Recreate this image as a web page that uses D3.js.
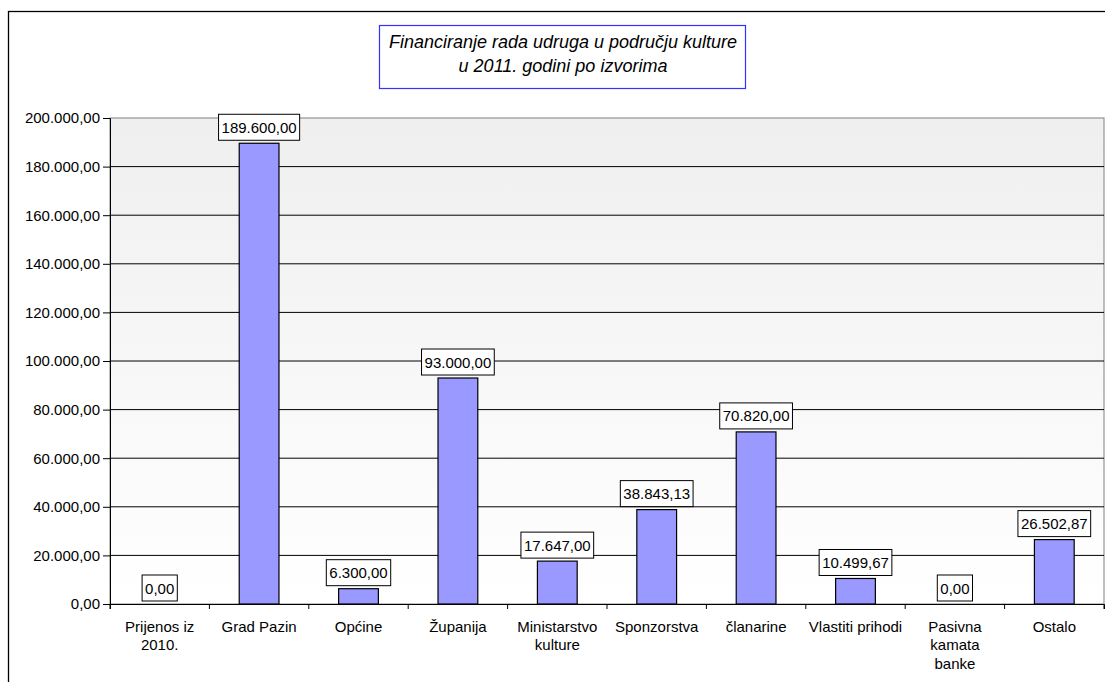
<!DOCTYPE html>
<html>
<head>
<meta charset="utf-8">
<script src="https://cdn.jsdelivr.net/npm/d3@7"></script>
<style>
  html, body { margin: 0; padding: 0; background: #fff; overflow: hidden; }
  text { font-family: "Liberation Sans", Arial, sans-serif; }
</style>
</head>
<body>
<svg id="chart" width="1105" height="682"></svg>
<script>
// ---- data ----
const categories = ["Prijenos iz\n2010.", "Grad Pazin", "Općine", "Županija", "Ministarstvo\nkulture",
  "Sponzorstva", "članarine", "Vlastiti prihodi", "Pasivna\nkamata\nbanke", "Ostalo"];
const values = [0, 189600, 6300, 93000, 17647, 38843.13, 70820, 10499.67, 0, 26502.87];
const yTicks = [0, 20000, 40000, 60000, 80000, 100000, 120000, 140000, 160000, 180000, 200000];
const titleLines = ["Financiranje rada udruga u području kulture", "u 2011. godini po izvorima"];

// ---- layout ----
const svg = d3.select("#chart");
const W = 1105, H = 682;
const plot = { left: 110, top: 118, right: 1104, bottom: 604 };

const hr = d3.formatLocale({ decimal: ",", thousands: ".", grouping: [3], currency: ["", ""] });
const fmt = hr.format(",.2f");

const x = d3.scaleBand().domain(categories).range([plot.left, plot.right]).paddingInner(0.6).paddingOuter(0.3);
const xb = d3.scaleBand().domain(categories).range([plot.left, plot.right]);
const y = d3.scaleLinear().domain([0, 200000]).range([plot.bottom, plot.top]);

// outer frame
svg.append("rect").attr("x", 8.5).attr("y", 11.5).attr("width", W + 20).attr("height", H + 20)
  .attr("fill", "#fff").attr("stroke", "#000").attr("stroke-width", 1.3);

// gradient background
const defs = svg.append("defs");
const grad = defs.append("linearGradient").attr("id", "bg").attr("x1", 0).attr("y1", 0).attr("x2", 0).attr("y2", 1);
grad.append("stop").attr("offset", "0%").attr("stop-color", "#efefef");
grad.append("stop").attr("offset", "100%").attr("stop-color", "#ffffff");

svg.append("rect").attr("x", plot.left).attr("y", plot.top)
  .attr("width", plot.right - plot.left).attr("height", plot.bottom - plot.top)
  .attr("fill", "url(#bg)").attr("stroke", "#808080").attr("stroke-width", 1);

// gridlines
svg.append("g").selectAll("line").data(yTicks.filter(d => d > 0 && d < 200000)).join("line")
  .attr("x1", plot.left).attr("x2", plot.right)
  .attr("y1", d => y(d)).attr("y2", d => y(d))
  .attr("stroke", "#000").attr("stroke-width", 1);

// bars
svg.append("g").selectAll("rect").data(values).join("rect")
  .attr("x", (d, i) => x(categories[i]))
  .attr("width", x.bandwidth())
  .attr("y", d => y(d))
  .attr("height", d => y(0) - y(d))
  .attr("fill", "#9999ff").attr("stroke", "#000").attr("stroke-width", 1.2)
  .attr("display", d => d > 0 ? null : "none");

// y axis
const yAxis = d3.axisLeft(y).tickValues(yTicks).tickFormat(fmt).tickSize(7).tickPadding(3);
const gy = svg.append("g").attr("transform", `translate(${plot.left},0)`).call(yAxis);
gy.select(".domain").attr("stroke", "#000");
gy.selectAll(".tick line").attr("stroke", "#000");
gy.selectAll(".tick text").attr("font-size", 15).attr("fill", "#000")
  .attr("font-family", "'Liberation Sans', Arial, sans-serif");

// x axis
const xAxis = d3.axisBottom(xb).tickSize(5).tickFormat("");
const gx = svg.append("g").attr("transform", `translate(0,${plot.bottom})`).call(xAxis);
gx.select(".domain").attr("stroke", "#000");
gx.selectAll(".tick").remove();
// boundary ticks between categories
svg.append("g").selectAll("line").data(d3.range(categories.length + 1)).join("line")
  .attr("x1", i => plot.left + i * xb.step()).attr("x2", i => plot.left + i * xb.step())
  .attr("y1", plot.bottom).attr("y2", plot.bottom + 5)
  .attr("stroke", "#000");

// x labels
const xl = svg.append("g").selectAll("text").data(categories).join("text")
  .attr("text-anchor", "middle").attr("font-size", 15).attr("fill", "#000")
  .attr("transform", d => `translate(${xb(d) + xb.bandwidth() / 2},${plot.bottom + 27.5})`);
xl.each(function (d) {
  const lines = d.split("\n");
  d3.select(this).selectAll("tspan").data(lines).join("tspan")
    .attr("x", 0).attr("dy", (l, j) => j === 0 ? 0 : 18.8).text(l => l);
});

// data labels
const lg = svg.append("g").selectAll("g").data(values).join("g")
  .attr("transform", (d, i) => `translate(${x(categories[i]) + x.bandwidth() / 2},${y(d) - 3})`);
lg.append("text").attr("text-anchor", "middle").attr("font-size", 15).attr("fill", "#000")
  .attr("y", -7.5).text(d => fmt(d));
lg.each(function () {
  const g = d3.select(this);
  const t = g.select("text");
  const w = t.node().getComputedTextLength();
  g.insert("rect", "text").attr("x", -w / 2 - 3).attr("y", -26).attr("width", w + 6).attr("height", 26)
    .attr("fill", "#fff").attr("stroke", "#000").attr("stroke-width", 1);
});

// title
const tg = svg.append("g");
tg.append("rect").attr("x", 379.5).attr("y", 25.5).attr("width", 366).attr("height", 63)
  .attr("fill", "#fff").attr("stroke", "#3333ff").attr("stroke-width", 1.2);
tg.selectAll("text").data(titleLines).join("text")
  .attr("x", 563).attr("y", (d, i) => 47.5 + i * 24)
  .attr("text-anchor", "middle").attr("font-size", 18).attr("font-style", "italic").attr("fill", "#000")
  .text(d => d);
</script>
</body>
</html>
